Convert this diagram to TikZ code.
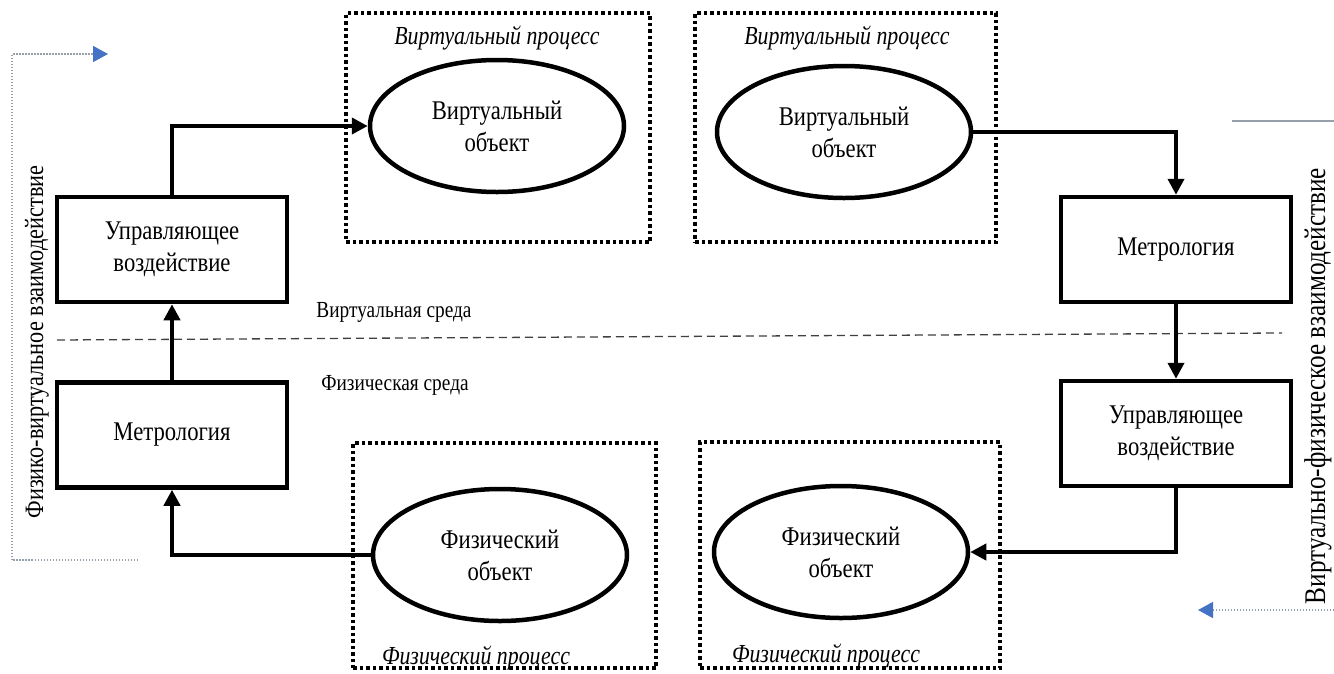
\documentclass[tikz,border=0pt]{standalone}
\usepackage{fontspec}
\setmainfont[FakeStretch=0.84]{Liberation Serif}
\usetikzlibrary{arrows.meta,shapes.geometric,calc}
\definecolor{blueA}{RGB}{68,114,196}
\definecolor{grayL}{RGB}{150,160,170}
\tikzset{
  every node/.style={font=\fontsize{27}{32}\selectfont},
  blk/.style={draw, line width=4.5pt, minimum width=230pt, minimum height=105pt, align=center, inner sep=0pt},
  ell/.style={ellipse, draw, line width=4.5pt, minimum width=254pt, minimum height=132pt, align=center, inner sep=0pt},
  dotbox/.style={draw, line width=3.5pt, dash pattern=on 3.5pt off 3pt, inner sep=0pt},
  arr/.style={line width=4pt, -{Triangle[length=16pt,width=16pt]}},
  bluearr/.style={grayL, line width=1.5pt, dash pattern=on 1.5pt off 1.5pt, -{Triangle[length=15pt,width=16pt,color=blueA]}},
  thin/.style={grayL, line width=1.5pt},
  lbl/.style={inner sep=0pt, font=\fontsize{23}{28}\selectfont},
  ilbl/.style={inner sep=0pt, font=\fontsize{26}{30}\selectfont\itshape},
  vlbl/.style={inner sep=0pt, rotate=90, font=\fontsize{26.5}{30}\selectfont}
}
\begin{document}
\begin{tikzpicture}[x=1pt,y=-1pt]
\useasboundingbox (0,0) rectangle (1334,673);
% dotted process boxes
\node[dotbox, minimum width=304pt, minimum height=229pt] (dVL) at (498,127.5) {};
\node[dotbox, minimum width=301pt, minimum height=229pt] (dVR) at (845.5,127.5) {};
\node[dotbox, minimum width=303pt, minimum height=225pt] (dPL) at (504.5,555.5) {};
\node[dotbox, minimum width=300pt, minimum height=226pt] (dPR) at (850,555) {};
% process labels
\node[ilbl] (tVL) at (497,38) {Виртуальный процесс};
\node[ilbl] (tVR) at (847,38) {Виртуальный процесс};
\node[ilbl] (tPL) at (476,658) {Физический процесс};
\node[ilbl] (tPR) at (826,656) {Физический процесс};
% ellipses
\node[ell, fill=white] (VL) at (497,126) {Виртуальный\\объект};
\node[ell, fill=white] (VR) at (844,132) {Виртуальный\\объект};
\node[ell, fill=white] (PL) at (500,555) {Физический\\объект};
\node[ell, fill=white] (PR) at (841,552) {Физический\\объект};
% boxes
\node[blk] (UL) at (172,249.5) {Управляющее\\воздействие};
\node[blk] (ML) at (172,435) {Метрология};
\node[blk] (MR) at (1176,249.5) {Метрология};
\node[blk] (UR) at (1176,433.5) {Управляющее\\воздействие};
% environment divider
\coordinate (dl) at (57,340);
\coordinate (dr) at (1282,333);
\draw[line width=1.3pt, dash pattern=on 8pt off 5pt, black!75] (dl) -- (dr);
\node[lbl] (tvs) at (394,312) {Виртуальная среда};
\node[lbl] (tfs) at (395,385) {Физическая среда};
% connectors
\draw[arr] (ML.north) -- (UL.south);
\draw[arr] (UL.north) |- (VL.west);
\draw[arr] (VR.east) -| (MR.north);
\draw[arr] (MR.south) -- (UR.north);
\draw[arr] (UR.south) |- (PR.east);
\draw[arr] (PL.west) -| (ML.south);
% interaction brackets
\coordinate (lb1) at (138,560);
\coordinate (lb2) at (12,560);
\coordinate (lb3) at (12,54);
\coordinate (lb4) at (108,54);
\draw[bluearr] (lb1) -- (lb2) -- (lb3) -- (lb4);
\node[vlbl] (tleft) at (37,342) {Физико-виртуальное взаимодействие};
\coordinate (rt1) at (1232,121);
\coordinate (rt2) at (1334,121);
\draw[thin] (rt1) -- (rt2);
\coordinate (rb1) at (1334,610);
\coordinate (rb2) at (1198,610);
\draw[bluearr] (rb1) -- (rb2);
\node[vlbl, font=\fontsize{30}{33}\selectfont] (tright) at (1318,386) {Виртуально-физическое взаимодействие};
\end{tikzpicture}
\end{document}
